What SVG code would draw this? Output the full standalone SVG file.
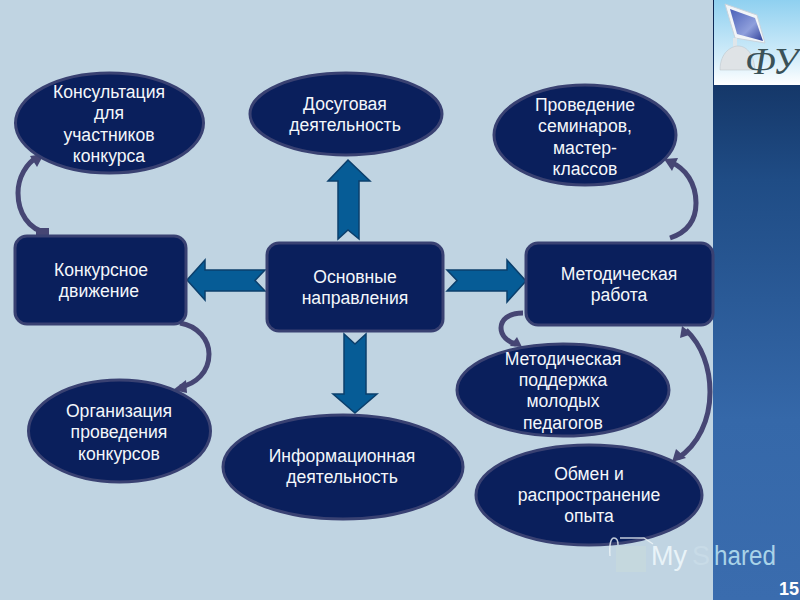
<svg xmlns="http://www.w3.org/2000/svg" width="800" height="600" viewBox="0 0 800 600">
<style>
text{font-family:"Liberation Sans",Arial,sans-serif;font-size:17.6px;fill:#f4f7fb;text-anchor:middle}
.n{fill:#0a1f5c;stroke:#394172;stroke-width:3}
.a{fill:#065c96;stroke:#0b3f6c;stroke-width:1.5;stroke-linejoin:miter}
.c{fill:none;stroke:#464674;stroke-width:5;stroke-linecap:butt}
.h{fill:#464674}
.w{text-anchor:start;font-size:27px}
</style>
<defs>
<linearGradient id="panel" x1="0" y1="0" x2="0" y2="1">
<stop offset="0" stop-color="#0c2550"/><stop offset="0.3" stop-color="#1f4c85"/><stop offset="0.7" stop-color="#3568a9"/><stop offset="1" stop-color="#3a6cae"/>
</linearGradient>
<linearGradient id="sky" x1="0" y1="0" x2="0" y2="1">
<stop offset="0" stop-color="#8fd0f0"/><stop offset="0.7" stop-color="#d6eefa"/><stop offset="1" stop-color="#ffffff"/>
</linearGradient>
<linearGradient id="scr" x1="0" y1="0" x2="1" y2="1">
<stop offset="0" stop-color="#4a60b8"/><stop offset="0.6" stop-color="#8f9fdc"/><stop offset="1" stop-color="#2f3f98"/>
</linearGradient>
</defs>
<rect width="800" height="600" fill="#c0d4e2"/>
<rect x="713" y="0" width="87" height="600" fill="url(#panel)"/>
<g id="logo">
<rect x="714" y="0" width="86" height="85" fill="url(#sky)"/>
<polygon points="725,4 757,15 765,43 735,38" fill="#f2f5f8" stroke="#c9d3dc"/>
<polygon points="730,9 755,18 763,41 737,34" fill="url(#scr)"/>
<rect x="733" y="38" width="4" height="10" fill="#dfe6ea"/>
<path d="M720,70 C720,52 732,46 738,46 C748,46 754,56 755,70 Z" fill="#dfe3e6" stroke="#b9c0c6" stroke-width="0.5"/>
<text x="745" y="74" style="font-family:'Liberation Serif',serif;font-style:italic;font-size:38px;fill:#3a5258;text-anchor:start">ФУ</text>
</g>
<g id="connectors">
<path class="c" d="M48,233 C28,230 18,212 18,193 C18,178 26,163 38,157"/>
<polygon class="h" points="44,154 30,156 37,167"/>
<polygon class="h" points="36,228 49,228 49,236 36,236"/>
<path class="c" d="M180,323 C198,326 209,340 209,354 C209,372 196,384 180,387"/>
<polygon class="h" points="173,390 186,380 187,393"/>
<path class="c" d="M670,238 C688,232 696,220 696,203 C696,184 686,168 670,162"/>
<polygon class="h" points="664,159 678,158 672,171"/>
<path class="c" d="M523,313 C508,313 501,320 501,328 C501,336 508,342 516,344"/>
<polygon class="h" points="522,347 510,346 517,337"/>
<path class="c" d="M686,330 C702,345 710,368 710,392 C710,420 698,445 678,458"/>
<polygon class="h" points="682,326 680,338 692,334"/>
<polygon class="h" points="672,462 676,449 686,458"/>
<polygon class="a" points="187,280 205,260 205,270 265,270 255,280.500 265,291 205,291 205,300"/>
<polygon class="a" points="348,160 370,181 359,181 359,239 348,230 338,239 338,181 328,181"/>
<polygon class="a" points="526,281 507,260 507,270 447,270 457,280.500 447,291 507,291 507,302"/>
<polygon class="a" points="355,413 377,394 366,394 366,334 355,344 344,334 344,394 333,394"/>
</g>
<g id="n1"><ellipse class="n" cx="109.500" cy="123" rx="94" ry="50"/><text x="109" y="98">Консультация</text><text x="109" y="119">для</text><text x="109" y="141">участников</text><text x="109" y="162">конкурса</text></g>
<g id="n2"><ellipse class="n" cx="346" cy="114" rx="96" ry="41"/><text x="345" y="110">Досуговая</text><text x="345" y="131">деятельность</text></g>
<g id="n3"><ellipse class="n" cx="585" cy="135" rx="91" ry="50"/><text x="585" y="111">Проведение</text><text x="585" y="132">семинаров,</text><text x="585" y="154">мастер-</text><text x="585" y="175">классов</text></g>
<g id="n4"><rect class="n" x="15" y="236" width="171" height="88" rx="12"/><text x="101" y="276">Конкурсное</text><text x="99" y="297">движение</text></g>
<g id="n5"><rect class="n" x="267" y="243" width="176" height="88" rx="12"/><text x="355" y="283">Основные</text><text x="355" y="304">направления</text></g>
<g id="n6"><rect class="n" x="526" y="243" width="187" height="82" rx="12"/><text x="619" y="280">Методическая</text><text x="619" y="301">работа</text></g>
<g id="n7"><ellipse class="n" cx="119.500" cy="431" rx="91" ry="51"/><text x="119" y="417">Организация</text><text x="119" y="438">проведения</text><text x="119" y="460">конкурсов</text></g>
<g id="n8"><ellipse class="n" cx="343" cy="467" rx="120" ry="52"/><text x="342" y="462">Информационная</text><text x="342" y="483">деятельность</text></g>
<g id="n9"><ellipse class="n" cx="563" cy="390" rx="106" ry="46"/><text x="563" y="365">Методическая</text><text x="563" y="386">поддержка</text><text x="563" y="407">молодых</text><text x="563" y="429">педагогов</text></g>
<g id="n10"><ellipse class="n" cx="589" cy="495" rx="113" ry="50"/><text x="589" y="480">Обмен и</text><text x="589" y="501">распространение</text><text x="589" y="522">опыта</text></g>
<g id="watermark">
<path d="M610,556 C609,544 611,538 614,538 C617,538 618,541 618,545 M620,538 L644,538 L653,544" fill="none" stroke="#eef5f8" stroke-opacity="0.8" stroke-width="1.5"/>
<rect x="616" y="546" width="30" height="26" fill="#d4e4d4" opacity="0.25"/>
<text class="w" x="651" y="565" textLength="36" lengthAdjust="spacingAndGlyphs" style="fill:#e9f3f8">My</text>
<text class="w" x="692" y="565" style="fill:#c8dbe7">S</text>
<text class="w" x="714" y="565" textLength="62" lengthAdjust="spacingAndGlyphs" style="fill:#a9d3e8">hared</text>
</g>
<text x="779" y="595" style="font-size:18px;font-weight:bold;fill:#ffffff;text-anchor:start">15</text>
</svg>
